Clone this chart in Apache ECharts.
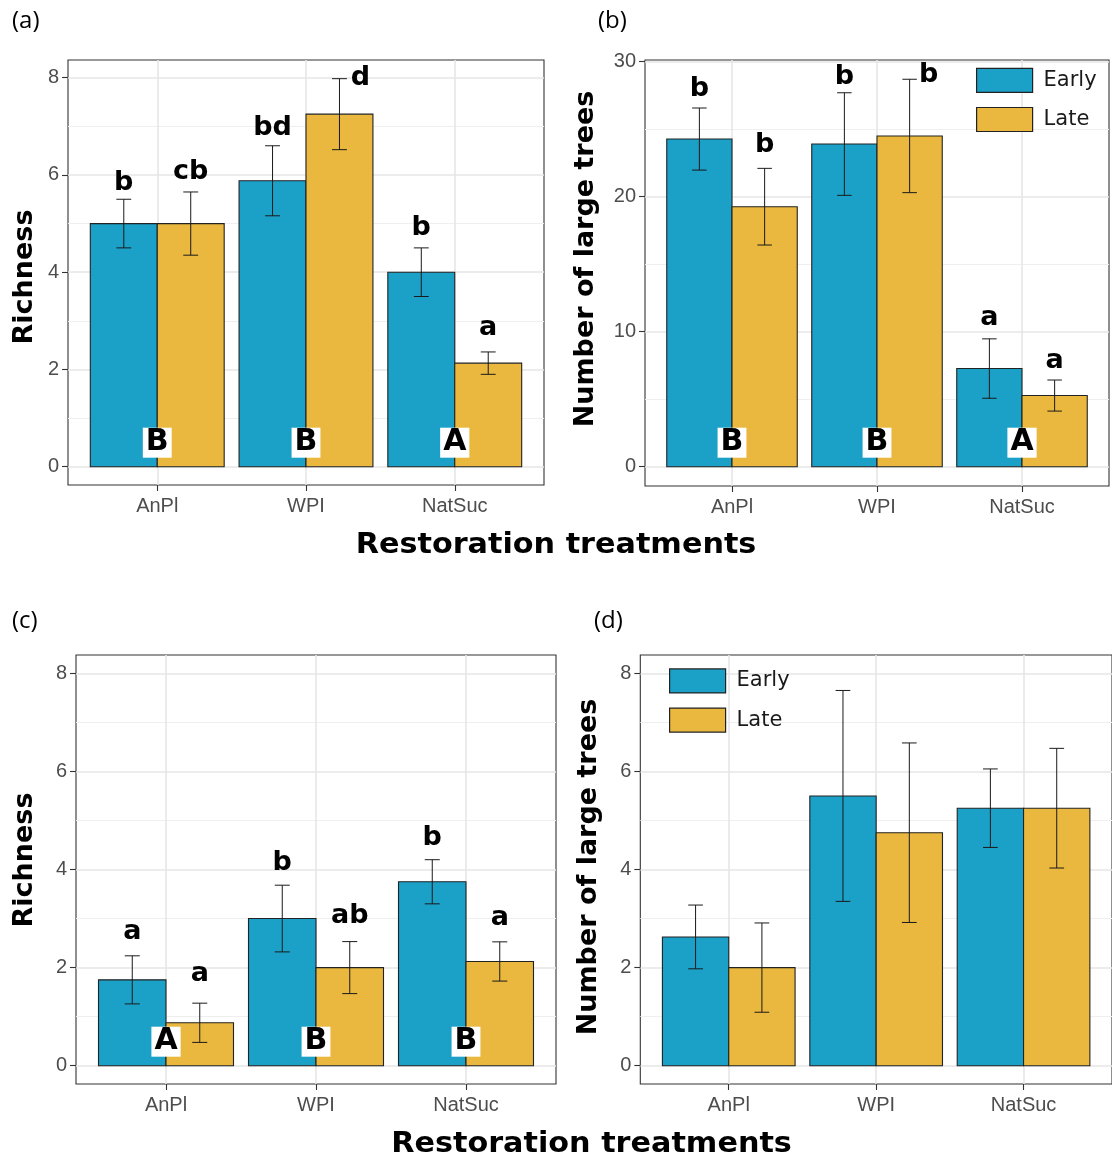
<!DOCTYPE html>
<html>
<head>
<meta charset="utf-8">
<script src="https://cdn.jsdelivr.net/npm/echarts@6/dist/echarts.min.js"></script>
<style>
  html, body { margin: 0; padding: 0; background: #ffffff; }
  #chart { width: 1112px; height: 1160px; }
</style>
</head>
<body>
<div id="chart"></div>
<script>
// ---- data -------------------------------------------------------------
const categories = ['AnPl', 'WPI', 'NatSuc'];
const periods = ['Early', 'Late'];

// (a) richness
const richAEarly = [5.0, 5.88, 4.0];
const richAEarlySE = [0.5, 0.72, 0.5];
const richALate = [5.0, 7.25, 2.13];
const richALateSE = [0.65, 0.73, 0.23];
const richAEarlyLetters = ['b', 'bd', 'b'];
const richALateLetters = ['cb', 'd', 'a'];
const richAGroups = ['B', 'B', 'A'];

// (b) number of large trees
const treesBEarly = [24.27, 23.9, 7.27];
const treesBEarlySE = [2.3, 3.8, 2.2];
const treesBLate = [19.26, 24.5, 5.27];
const treesBLateSE = [2.84, 4.2, 1.15];
const treesBEarlyLetters = ['b', 'b', 'a'];
const treesBLateLetters = ['b', 'b', 'a'];
const treesBGroups = ['B', 'B', 'A'];

// (c) richness
const richCEarly = [1.75, 3.0, 3.75];
const richCEarlySE = [0.49, 0.68, 0.45];
const richCLate = [0.875, 2.0, 2.125];
const richCLateSE = [0.4, 0.53, 0.4];
const richCEarlyLetters = ['a', 'b', 'b'];
const richCLateLetters = ['a', 'ab', 'a'];
const richCGroups = ['A', 'B', 'B'];

// (d) number of large trees
const treesDEarly = [2.625, 5.5, 5.25];
const treesDEarlySE = [0.65, 2.15, 0.8];
const treesDLate = [2.0, 4.75, 5.25];
const treesDLateSE = [0.91, 1.83, 1.22];

// y axis ranges
const richMax = 8, richStep = 2;
const treesBMax = 30, treesBStep = 10;
const treesDMax = 8, treesDStep = 2;

// ---- style ------------------------------------------------------------
const BLUE = '#1ba0c8';
const YELLOW = '#eab83e';
const OUTLINE = '#222222';
const GRID_MAJOR = '#e6e6e6';
const GRID_MINOR = '#efefef';
const TICK_TEXT = '#4d4d4d';
const BAR_HALF = 0.225;   // half of a dodged bar, in category units
const CAP_HALF = 0.05;    // half width of an error bar cap
const LETTER_SIZE = 27;
const MID = 0.346;        // em-box middle above the baseline

// pixel layout of each panel: outer frame and the 0..max value band
const panels = [
  { frame: { left: 68, top: 60, width: 476, height: 425 },
    band:  { left: 68, top: 77.7, width: 476, height: 389 },
    max: richMax, step: richStep,
    early: richAEarly, earlySE: richAEarlySE, late: richALate, lateSE: richALateSE,
    earlyLetters: richAEarlyLetters, lateLetters: richALateLetters, groups: richAGroups,
    earlyLift: [7, 8, 11], lateLift: [11, -9, 15], lateShift: [0, 21, 0] },
  { frame: { left: 645, top: 60, width: 464, height: 426 },
    band:  { left: 645, top: 61.7, width: 464, height: 405 },
    max: treesBMax, step: treesBStep,
    early: treesBEarly, earlySE: treesBEarlySE, late: treesBLate, lateSE: treesBLateSE,
    earlyLetters: treesBEarlyLetters, lateLetters: treesBLateLetters, groups: treesBGroups,
    earlyLift: [10, 6, 12], lateLift: [14, -5, 10], lateShift: [0, 19, 0] },
  { frame: { left: 76, top: 655, width: 480, height: 429 },
    band:  { left: 76, top: 673.3, width: 480, height: 392.4 },
    max: richMax, step: richStep,
    early: richCEarly, earlySE: richCEarlySE, late: richCLate, lateSE: richCLateSE,
    earlyLetters: richCEarlyLetters, lateLetters: richCLateLetters, groups: richCGroups,
    earlyLift: [15, 13, 12], lateLift: [20, 16, 15], lateShift: [0, 0, 0] },
  { frame: { left: 640.3, top: 655, width: 481.3, height: 429 },
    band:  { left: 640.3, top: 673.3, width: 481.3, height: 392.4 },
    max: treesDMax, step: treesDStep,
    early: treesDEarly, earlySE: treesDEarlySE, late: treesDLate, lateSE: treesDLateSE,
    earlyLetters: null, lateLetters: null, groups: null }
];

const grid = [], xAxis = [], yAxis = [], series = [];
const tickFont = { fontSize: 20, color: TICK_TEXT, fontFamily: 'Liberation Sans' };

function barSeries(axis, name, means, offset, color) {
  return {
    type: 'custom', name: name, xAxisIndex: axis, yAxisIndex: axis,
    silent: true, z: 3, clip: false, itemStyle: { color: color },
    data: means.map((m, i) => [i + 1, m]),
    renderItem(params, api) {
      const c = api.value(0) + offset;
      const lo = api.coord([c - BAR_HALF, 0]);
      const hi = api.coord([c + BAR_HALF, api.value(1)]);
      return {
        type: 'rect',
        shape: { x: lo[0], y: hi[1], width: hi[0] - lo[0], height: lo[1] - hi[1] },
        style: { fill: color, stroke: OUTLINE, lineWidth: 1.1 }
      };
    }
  };
}

function errorSeries(axis, name, means, ses, offset, letters, lift, shift) {
  return {
    type: 'custom', name: name, xAxisIndex: axis, yAxisIndex: axis,
    silent: true, z: 4, clip: false,
    data: means.map((m, i) => [i + 1, m, ses[i]]),
    renderItem(params, api) {
      const c = api.value(0) + offset, m = api.value(1), s = api.value(2);
      const top = api.coord([c, m + s]);
      const bot = api.coord([c, m - s]);
      const l = api.coord([c - CAP_HALF, 0])[0];
      const r = api.coord([c + CAP_HALF, 0])[0];
      const ls = { stroke: '#1a1a1a', lineWidth: 1 };
      const children = [
        { type: 'line', shape: { x1: top[0], y1: top[1], x2: bot[0], y2: bot[1] }, style: ls },
        { type: 'line', shape: { x1: l, y1: top[1], x2: r, y2: top[1] }, style: ls },
        { type: 'line', shape: { x1: l, y1: bot[1], x2: r, y2: bot[1] }, style: ls }
      ];
      if (letters) {
        const i = params.dataIndex;
        const baseline = top[1] - lift[i];
        children.push({
          type: 'text',
          x: top[0] + (shift ? shift[i] : 0),
          y: baseline - MID * LETTER_SIZE,
          style: {
            text: letters[i], fill: '#000', fontSize: LETTER_SIZE, fontWeight: 'bold',
            fontFamily: 'DejaVu Sans', align: 'center', verticalAlign: 'middle'
          }
        });
      }
      return { type: 'group', children: children };
    }
  };
}

function groupSeries(axis, groups) {
  return {
    type: 'custom', name: 'groups', xAxisIndex: axis, yAxisIndex: axis,
    silent: true, z: 5, clip: false,
    data: groups.map((g, i) => [i + 1, 0]),
    renderItem(params, api) {
      const p = api.coord([api.value(0), 0]);
      return {
        type: 'text', x: p[0], y: p[1] - 24,
        style: {
          text: groups[params.dataIndex], fill: '#000', fontSize: 30, fontWeight: 'bold',
          fontFamily: 'DejaVu Sans', align: 'center', verticalAlign: 'middle',
          backgroundColor: '#ffffff', padding: [2, 3, 2, 3], lineHeight: 26
        }
      };
    }
  };
}

panels.forEach((p, k) => {
  const fi = 2 * k, di = 2 * k + 1;
  grid.push(Object.assign({ show: true, borderColor: '#333333', borderWidth: 1.1,
    backgroundColor: 'transparent', containLabel: false }, p.frame));
  grid.push(Object.assign({ show: false, containLabel: false }, p.band));

  // frame axes: category ticks along the bottom edge
  xAxis.push({
    type: 'value', gridIndex: fi, min: 0.4, max: 3.6,
    axisLine: { show: false }, splitLine: { show: false },
    axisTick: { show: true, customValues: [1, 2, 3], length: 6,
      lineStyle: { color: '#333333', width: 1.1 } },
    axisLabel: Object.assign({ show: true, customValues: [1, 2, 3], margin: 11,
      formatter: v => categories[Math.round(v) - 1] }, tickFont)
  });
  yAxis.push({ type: 'value', gridIndex: fi, min: 0, max: 1, show: false });

  // value band axes
  xAxis.push({ type: 'value', gridIndex: di, min: 0.4, max: 3.6, show: false });
  yAxis.push({
    type: 'value', gridIndex: di, min: 0, max: p.max, interval: p.step,
    axisLine: { show: false },
    axisTick: { show: true, length: 6, lineStyle: { color: '#333333', width: 1.1 } },
    axisLabel: Object.assign({ margin: 9 }, tickFont),
    splitLine: { show: true, lineStyle: { color: GRID_MAJOR, width: 1.6 } },
    minorTick: { show: false, splitNumber: 2 },
    minorSplitLine: { show: true, lineStyle: { color: GRID_MINOR, width: 1 } }
  });

  // vertical grid lines at the categories, kept beneath the bars
  series.push({
    type: 'line', name: 'vgrid', xAxisIndex: fi, yAxisIndex: fi, data: [], z: 1,
    silent: true, symbol: 'none',
    markLine: {
      z: 1, silent: true, symbol: ['none', 'none'], label: { show: false }, animation: false,
      lineStyle: { color: GRID_MAJOR, width: 1.6, type: 'solid' },
      data: [{ xAxis: 1 }, { xAxis: 2 }, { xAxis: 3 }]
    }
  });

  series.push(barSeries(di, periods[0], p.early, -BAR_HALF, BLUE));
  series.push(barSeries(di, periods[1], p.late, BAR_HALF, YELLOW));
  series.push(errorSeries(di, 'Early SE', p.early, p.earlySE, -BAR_HALF,
    p.earlyLetters, p.earlyLift, null));
  series.push(errorSeries(di, 'Late SE', p.late, p.lateSE, BAR_HALF,
    p.lateLetters, p.lateLift, p.lateShift));
  if (p.groups) series.push(groupSeries(di, p.groups));
});

const legendBase = {
  orient: 'vertical', itemWidth: 56, itemHeight: 24, itemGap: 14, padding: 0,
  selectedMode: false, icon: 'rect',
  textStyle: { fontSize: 21, fontFamily: 'DejaVu Sans', color: '#1a1a1a', padding: [0, 0, 0, 6] },
  data: [
    { name: periods[0], itemStyle: { color: BLUE, borderColor: OUTLINE, borderWidth: 1.2 } },
    { name: periods[1], itemStyle: { color: YELLOW, borderColor: OUTLINE, borderWidth: 1.2 } }
  ]
};

const titleFont = { fill: '#000', fontWeight: 'bold', fontFamily: 'DejaVu Sans',
  align: 'center', verticalAlign: 'middle' };
const tagFont = { fill: '#000', fontSize: 24, fontFamily: 'Open Sans', verticalAlign: 'middle' };

const graphic = [
  { type: 'text', x: 12, y: 21, style: Object.assign({ text: '(a)' }, tagFont) },
  { type: 'text', x: 598, y: 21, style: Object.assign({ text: '(b)' }, tagFont) },
  { type: 'text', x: 12, y: 621, style: Object.assign({ text: '(c)' }, tagFont) },
  { type: 'text', x: 594, y: 621, style: Object.assign({ text: '(d)' }, tagFont) },
  { type: 'text', x: 24.5, y: 277, rotation: Math.PI / 2,
    style: Object.assign({ text: 'Richness', fontSize: 27 }, titleFont) },
  { type: 'text', x: 585.5, y: 259, rotation: Math.PI / 2,
    style: Object.assign({ text: 'Number of large trees', fontSize: 27 }, titleFont) },
  { type: 'text', x: 24.5, y: 860, rotation: Math.PI / 2,
    style: Object.assign({ text: 'Richness', fontSize: 27 }, titleFont) },
  { type: 'text', x: 588.5, y: 867, rotation: Math.PI / 2,
    style: Object.assign({ text: 'Number of large trees', fontSize: 27 }, titleFont) },
  { type: 'text', x: 556, y: 546, scaleX: 1.08,
    style: Object.assign({ text: 'Restoration treatments', fontSize: 28 }, titleFont) },
  { type: 'text', x: 591.5, y: 1145, scaleX: 1.08,
    style: Object.assign({ text: 'Restoration treatments', fontSize: 28 }, titleFont) }
];

const chart = echarts.init(document.getElementById('chart'), null, { renderer: 'canvas' });
chart.setOption({
  animation: false,
  backgroundColor: '#ffffff',
  grid: grid,
  xAxis: xAxis,
  yAxis: yAxis,
  legend: [
    Object.assign({ left: 976, top: 67.7 }, legendBase),
    Object.assign({ left: 669, top: 668.3 }, legendBase)
  ],
  graphic: graphic,
  series: series
});
</script>
</body>
</html>
